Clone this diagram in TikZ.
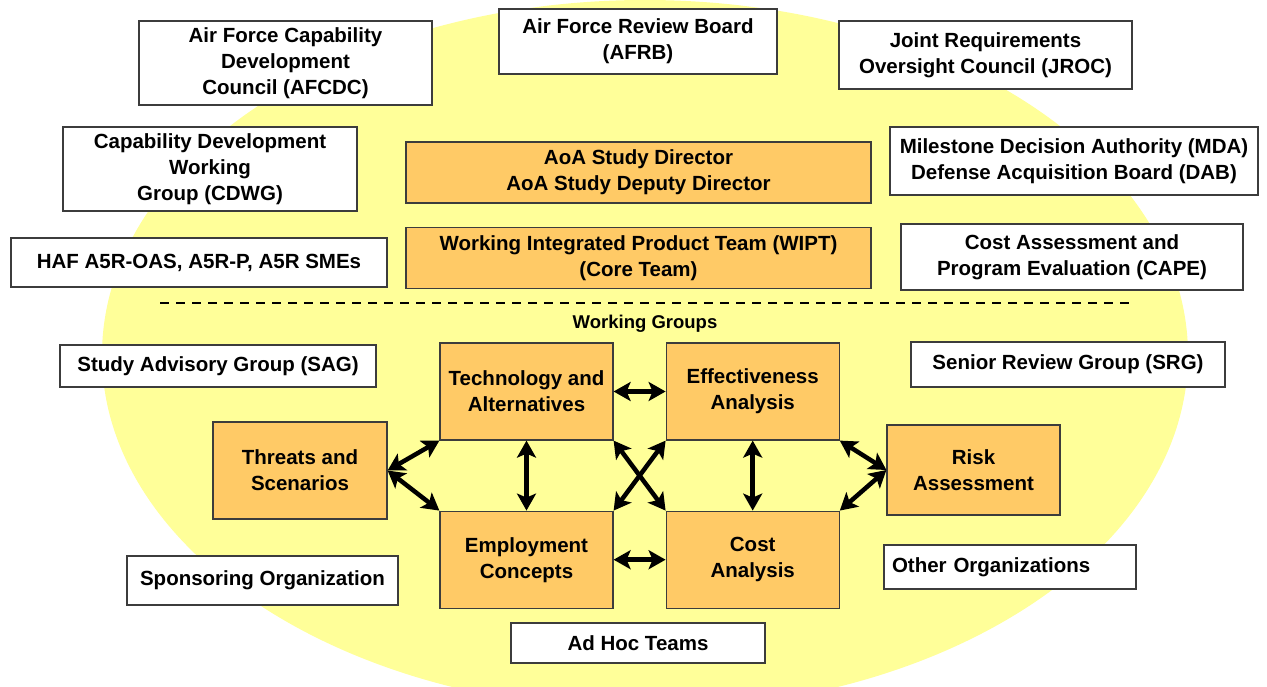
\documentclass[tikz,border=0pt]{standalone}
\usepackage{fontspec}
\setmainfont{Liberation Sans}
\usepackage{tikz}
\usetikzlibrary{positioning, arrows.meta}
\usepackage{xcolor}

\definecolor{ovalyellow}{RGB}{255,255,153}
\definecolor{teamorange}{RGB}{255,202,102}
\definecolor{boxline}{RGB}{60,60,60}

\tikzset{
  orgbox/.style={draw=boxline, fill=white, line width=1.2pt, align=center, inner sep=2pt,
    font=\bfseries\fontsize{20.5}{26}\selectfont},
  team/.style={orgbox, fill=teamorange},
  link/.style={<->, line width=4.5pt},
}

\begin{document}
\begin{tikzpicture}[x=1pt, y=-1pt, >={Stealth[length=17pt, width=19pt, inset=4pt]}]
						\useasboundingbox (0,0) rectangle (1267,687);
						\fill[white] (0,0) rectangle (1267,687);
						\fill[ovalyellow] (645,355) ellipse [x radius=543pt, y radius=355pt];
						% upper part
						\node[orgbox, minimum width=293pt, minimum height=84pt] (afcdc) at (285.5,63) {Air Force Capability\\Development\\Council (AFCDC)};
						\node[orgbox, minimum width=278pt, minimum height=65pt] (afrb) at (638,41.5) {Air Force Review Board\\(AFRB)};
						\node[orgbox, minimum width=293pt, minimum height=68pt] (jroc) at (985.5,55) {Joint Requirements\\Oversight Council (JROC)};
						\node[orgbox, minimum width=294pt, minimum height=84pt] (cdwg) at (210,169) {Capability Development\\Working\\Group (CDWG)};
						\node[team, minimum width=465pt, minimum height=61pt] (aoa) at (638.5,172.5) {AoA Study Director\\AoA Study Deputy Director};
						\node[orgbox, minimum width=368pt, minimum height=68pt] (mda) at (1074,161) {Milestone Decision Authority (MDA)\\Defense Acquisition Board (DAB)};
						\node[orgbox, minimum width=376pt, minimum height=49pt] (haf) at (199,262.5) {HAF A5R-OAS, A5R-P, A5R SMEs};
						\node[team, minimum width=465pt, minimum height=61pt, below=23pt of aoa] (wipt) {Working Integrated Product Team (WIPT)\\(Core Team)};
						\node[orgbox, minimum width=342pt, minimum height=66pt] (cape) at (1072,257) {Cost Assessment and\\Program Evaluation (CAPE)};
						\coordinate (dl) at (160,303);
						\coordinate (dr) at (1130,303);
						\draw[line width=1.5pt, dash pattern=on 9pt off 7pt] (dl) -- (dr);
						\node[font=\bfseries\fontsize{18.5}{22}\selectfont] (wg) at (645,324) {Working Groups};
						% working groups
						\node[team, minimum width=173pt, minimum height=97pt] (tech) at (526.5,391.5) {Technology and\\Alternatives};
						\node[team, minimum width=173pt, minimum height=97pt, right=52pt of tech] (eff) {Effectiveness\\Analysis};
						\node[team, minimum width=173pt, minimum height=97pt, below=70pt of tech] (emp) {Employment\\Concepts};
						\node[team, minimum width=173pt, minimum height=97pt, right=52pt of emp] (cost) {Cost\\Analysis};
						\node[team, minimum width=174pt, minimum height=97pt] (thr) at (300,470.5) {Threats and\\Scenarios};
						\node[team, minimum width=173pt, minimum height=90pt] (risk) at (973.5,470) {Risk\\Assessment};
						\node[orgbox, minimum width=316pt, minimum height=42pt] (sag) at (218,366) {Study Advisory Group (SAG)};
						\node[orgbox, minimum width=314pt, minimum height=45pt] (srg) at (1068,364.5) {Senior Review Group (SRG)};
						\node[orgbox, minimum width=271pt, minimum height=49pt] (spon) at (262.5,580.5) {Sponsoring Organization};
						\node[orgbox, text width=236pt, align=left, inner xsep=8pt, minimum height=44pt] (other) at (1010,567) {Other Organizations};
						\node[orgbox, minimum width=254pt, minimum height=40pt] (adhoc) at (638,643) {Ad Hoc Teams};
						\draw
						(tech) edge[link] (eff)
						(emp) edge[link] (cost)
						(tech) edge[link] (emp)
						(eff) edge[link] (cost)
						(tech.south east) edge[link] (cost.north west)
						(eff.south west) edge[link] (emp.north east)
						(thr.east) edge[link] (tech.south west)
						(thr.east) edge[link] (emp.north west)
						(risk.west) edge[link] (eff.south east)
						(risk.west) edge[link] (cost.north east);
					\end{tikzpicture}
\end{document}
